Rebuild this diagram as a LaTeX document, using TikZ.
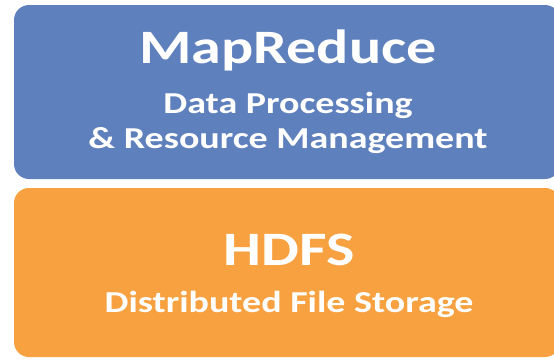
\documentclass[tikz,border=0pt]{standalone}
\usepackage{fontspec}
\setmainfont{Carlito}[FakeStretch=1.25]
\usetikzlibrary{positioning}

\definecolor{mrblue}{RGB}{94,128,188}
\definecolor{hdfsorange}{RGB}{247,161,64}

\tikzset{
    layer/.style={rounded corners=15pt, inner sep=0pt},
    title/.style={anchor=base, text=white, font=\bfseries\fontsize{48}{52}\selectfont},
    subtitle/.style={anchor=base, text=white, font=\bfseries\fontsize{30.4}{34}\selectfont}
}

\begin{document}
\begin{tikzpicture}[x=1pt,y=-1pt]
    \useasboundingbox (0,0) rectangle (554,359);
    \begin{scope}
    \clip (0,0) rectangle (554,359);

    \fill[layer,mrblue] (14,5) rectangle (560,179);
    \fill[layer,hdfsorange] (14,188) rectangle (560,357);

    \node[title] (mr) at (288,63) {MapReduce};
    \node[subtitle] (dp) at (288,113) {Data Processing};
    \node[subtitle] (rm) at (288,148) {\& Resource Management};

    \node[title] (hdfs) at (289,265) {HDFS};
    \node[subtitle] (dfs) at (289,312) {Distributed File Storage};
    \end{scope}
\end{tikzpicture}
\end{document}
